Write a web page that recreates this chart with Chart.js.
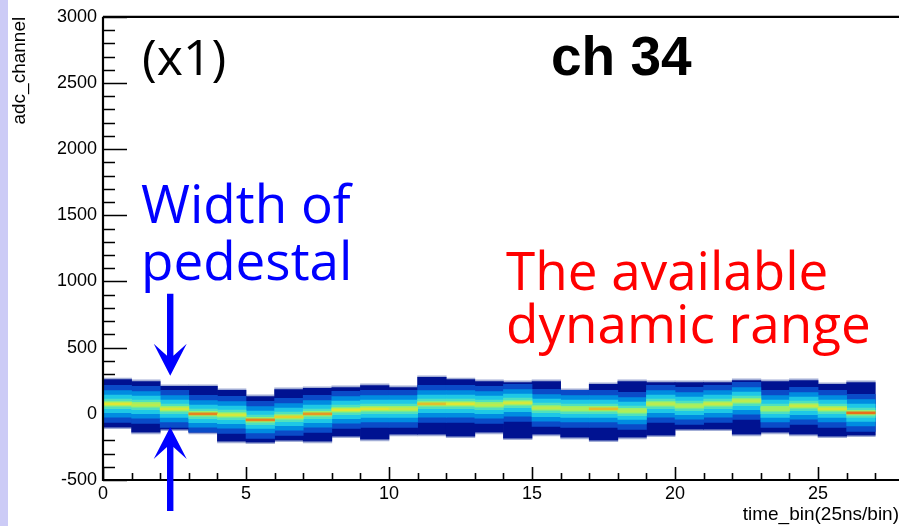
<!DOCTYPE html>
<html>
<head>
<meta charset="utf-8">
<title>ch 34 pedestal</title>
<script src="https://cdn.jsdelivr.net/npm/chart.js@4.4.1/dist/chart.umd.min.js"></script>
<style>
  html, body { margin: 0; padding: 0; background: #fff; }
  #wrap {
    position: relative; width: 899px; height: 526px;
    background: linear-gradient(to right, #cccbf6 0, #cccbf6 8px, #fff 8px);
  }
  canvas { display: block; }
</style>
</head>
<body>
<div id="wrap"><canvas id="adcChart" width="899" height="526"></canvas></div>
<script>
// Pedestal band of ch 34, one column per time bin (25 ns/bin), values in adc counts
const timeBins   = [0, 1, 2, 3, 4, 5, 6, 7, 8, 9, 10, 11, 12, 13, 14, 15, 16, 17, 18, 19, 20, 21, 22, 23, 24, 25, 26];
const bandTop    = [271, 256, 219, 219, 189, 143, 196, 204, 211, 226, 211, 287, 271, 256, 249, 256, 189, 234, 256, 249, 249, 249, 264, 256, 264, 234, 249];
const bandBottom = [-113, -151, -128, -151, -219, -226, -211, -219, -181, -204, -166, -166, -181, -151, -196, -166, -189, -211, -189, -173, -128, -128, -166, -151, -166, -181, -173];
const bandCore   = [75, 68, 38, 0, -8, -45, -23, 0, 30, 38, 38, 75, 75, 68, 83, 45, 38, 38, 23, 75, 60, 75, 98, 38, 60, 38, 8];
const peakCounts = [40, 37, 39, 45, 39, 45, 41, 44, 40, 40, 38, 42, 40, 37, 39, 37, 36, 42, 36, 37, 36, 38, 37, 35, 38, 39, 46];
const zMax = 50;

// profile of the band around its core: half widths (adc) and content level (fraction of zMax)
const bandHalfWidths = [140, 100, 66, 36, 18];
const bandLevels     = [0.2, 0.36, 0.5, 0.6, 0.68];
const coreHalfWidth  = 8;
const fringeWidth    = 12;   // sparse single-count bins at the edges

const xTicks = [0, 5, 10, 15, 20, 25];
const yTicks = [-500, 0, 500, 1000, 1500, 2000, 2500, 3000];

// colour palette (navy -> blue -> cyan -> green -> yellow -> red)
const paletteStops = [
    [0.00, [0, 18, 145]],
    [0.20, [10, 75, 200]],
    [0.36, [0, 140, 225]],
    [0.50, [30, 200, 230]],
    [0.60, [80, 225, 190]],
    [0.68, [150, 240, 110]],
    [0.80, [225, 230, 50]],
    [0.92, [235, 110, 25]],
    [1.00, [200, 30, 20]]
];

function paletteColor(f) {
    f = Math.max(0, Math.min(1, f));
    for (let i = 1; i < paletteStops.length; i++) {
        const [f1, c1] = paletteStops[i];
        const [f0, c0] = paletteStops[i - 1];
        if (f <= f1) {
            const t = (f - f0) / (f1 - f0);
            const c = c0.map((v, k) => Math.round(v + (c1[k] - v) * t));
            return `rgb(${c[0]}, ${c[1]}, ${c[2]})`;
        }
    }
    return 'rgb(200, 30, 20)';
}

function layer(label, lowFn, highFn, color) {
    return {
        label: label,
        data: timeBins.map((t, i) => ({ x: t + 0.5, y: [lowFn(i), highFn(i)] })),
        backgroundColor: color,
        borderWidth: 0,
        grouped: false,
        barPercentage: 1,
        categoryPercentage: 1
    };
}

const datasets = [];
datasets.push(layer('fringe', i => bandBottom[i], i => bandTop[i], '#a3aed6'));
datasets.push(layer('navy', i => bandBottom[i] + fringeWidth, i => bandTop[i] - fringeWidth, paletteColor(0)));
bandHalfWidths.forEach((w, k) => {
    datasets.push(layer('level ' + k,
        i => Math.max(bandBottom[i] + fringeWidth, bandCore[i] - w),
        i => Math.min(bandTop[i] - fringeWidth, bandCore[i] + w),
        paletteColor(bandLevels[k])));
});
datasets.push(layer('core', i => bandCore[i] - coreHalfWidth, i => bandCore[i] + coreHalfWidth,
    peakCounts.map(c => paletteColor(c / zMax))));
// outer layers underneath
datasets.forEach((d, i) => { d.order = datasets.length - i; });

// ROOT style frame: inward ticks, axis lines and the slide annotations
const rootFrame = {
    id: 'rootFrame',
    beforeDatasetsDraw(chart) {
        const ctx = chart.ctx;
        const x = chart.scales.x, y = chart.scales.y;
        const area = chart.chartArea;
        ctx.save();
        ctx.strokeStyle = '#000';
        ctx.lineWidth = 1.6;
        ctx.beginPath();
        for (let v = -500; v <= 3000; v += 100) {
            const py = Math.round(y.getPixelForValue(v)) + 0.5;
            const len = v % 500 === 0 ? 24 : 12;
            ctx.moveTo(area.left, py);
            ctx.lineTo(area.left + len, py);
        }
        for (let v = 0; v <= 27; v++) {
            const px = Math.round(x.getPixelForValue(v)) + 0.5;
            const len = v % 5 === 0 ? 13 : 7;
            ctx.moveTo(px, area.bottom);
            ctx.lineTo(px, area.bottom - len);
        }
        ctx.stroke();
        ctx.restore();
    },
    afterDatasetsDraw(chart) {
        const ctx = chart.ctx;
        const x = chart.scales.x, y = chart.scales.y;
        const area = chart.chartArea;
        ctx.save();
        // axis lines and top edge of the frame
        ctx.strokeStyle = '#000';
        ctx.lineWidth = 2.2;
        ctx.beginPath();
        ctx.moveTo(area.left, area.top);
        ctx.lineTo(area.left, area.bottom);
        ctx.lineTo(area.right, area.bottom);
        ctx.moveTo(area.left, area.top);
        ctx.lineTo(area.right, area.top);
        ctx.stroke();

        // arrows marking the width of the pedestal
        const ax = x.getPixelForValue(2.35);
        const topTip = y.getPixelForValue(288);
        const botTip = y.getPixelForValue(-100);
        ctx.fillStyle = '#0000ff';
        drawArrow(ctx, ax, topTip, -1, 82);
        drawArrow(ctx, ax, botTip, 1, 84);

        // texts
        ctx.textBaseline = 'alphabetic';
        ctx.textAlign = 'left';
        ctx.fillStyle = '#000';
        ctx.font = '50px "Open Sans"';
        ctx.fillText('(x1)', 142, 75);
        ctx.font = 'bold 55px "Liberation Sans"';
        ctx.fillText('ch 34', 551, 75);

        ctx.font = '53px "Open Sans"';
        ctx.fillStyle = '#0000ff';
        ctx.fillText('Width of', 141, 223);
        ctx.fillText('pedestal', 141, 280);
        ctx.fillStyle = '#ff0000';
        ctx.fillText('The available', 506, 290);
        ctx.fillText('dynamic range', 506, 343);
        ctx.restore();
    }
};

// arrow with a notched head; dir = -1 points down (tip below the shaft), 1 points up
function drawArrow(ctx, cx, tipY, dir, length) {
    const headLen = 32, notch = 20, halfHead = 16.5, halfShaft = 3.2;
    const s = dir;
    ctx.beginPath();
    ctx.moveTo(cx, tipY);
    ctx.lineTo(cx + halfHead, tipY + s * headLen);
    ctx.lineTo(cx + halfShaft, tipY + s * notch);
    ctx.lineTo(cx + halfShaft, tipY + s * length);
    ctx.lineTo(cx - halfShaft, tipY + s * length);
    ctx.lineTo(cx - halfShaft, tipY + s * notch);
    ctx.lineTo(cx - halfHead, tipY + s * headLen);
    ctx.closePath();
    ctx.fill();
}

const tickFont = { family: '"Liberation Sans", Arial, sans-serif', size: 18 };

new Chart(document.getElementById('adcChart'), {
    type: 'bar',
    data: { datasets: datasets },
    options: {
        responsive: false,
        animation: false,
        devicePixelRatio: 1,
        layout: { padding: { left: 0, top: 16, right: 0, bottom: 0 } },
        plugins: {
            legend: { display: false },
            tooltip: { enabled: false }
        },
        scales: {
            x: {
                type: 'linear',
                min: 0,
                max: 27.83,
                offset: false,
                grid: { display: false, drawTicks: false },
                border: { display: false },
                afterBuildTicks: s => { s.ticks = xTicks.map(v => ({ value: v })); },
                afterFit: s => { s.height = 46; },
                ticks: { font: tickFont, color: '#000', padding: 3, maxRotation: 0, callback: v => String(v) },
                title: {
                    display: true, text: 'time_bin(25ns/bin)', align: 'end', color: '#000',
                    font: { family: '"Liberation Sans", Arial, sans-serif', size: 19 },
                    padding: { top: 0, bottom: 0 }
                }
            },
            y: {
                min: -500,
                max: 3000,
                grid: { display: false, drawTicks: false },
                border: { display: false },
                afterBuildTicks: s => { s.ticks = yTicks.map(v => ({ value: v })); },
                afterFit: s => { s.width = 103; },
                ticks: { font: tickFont, color: '#000', padding: 6, callback: v => String(v) },
                title: {
                    display: true, text: 'adc_channel', align: 'end', color: '#000',
                    font: { family: '"Liberation Sans", Arial, sans-serif', size: 19 },
                    padding: { top: 8.6, bottom: 0 }
                }
            }
        }
    },
    plugins: [rootFrame]
});
</script>
</body>
</html>
